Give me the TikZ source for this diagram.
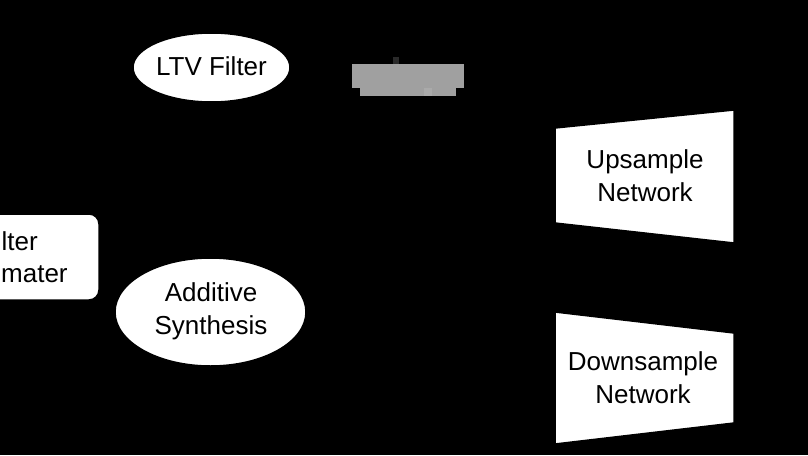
\documentclass[tikz,border=0pt]{standalone}
\usepackage{fontspec}
\setmainfont{Liberation Sans}
\usetikzlibrary{shapes.geometric}
\definecolor{blurgray}{HTML}{A0A0A0}
\definecolor{blurlight}{HTML}{AAAAAA}
\definecolor{blurdark}{HTML}{2A2A2A}
\tikzset{
  lbl/.style={font=\fontsize{26}{33}\selectfont, align=center, text=black, inner sep=0pt},
  shapeline/.style={draw=black, fill=white, line width=1.5pt},
  oval/.style={shapeline, ellipse, inner sep=0pt},
}
\begin{document}
\begin{tikzpicture}[x=1pt, y=-1pt]
\useasboundingbox (0,0) rectangle (808,455);
\fill[black] (0,0) rectangle (808,455);
\clip (0,0) rectangle (808,455);

% left rounded box (cut by the picture edge)
\draw[shapeline, rounded corners=10pt] (-80,214) rectangle (99,300);
\node[lbl, anchor=base west] (est1) at (1.5,250) {lter};
\node[lbl, anchor=base west] (est2) at (1,282) {mater};

% ellipses
\node[oval, minimum width=157pt, minimum height=69pt] (ltv) at (211.5,67.5) {};
\node[lbl] (ltvt) at (211.5,66.5) {LTV Filter};
\node[oval, minimum width=191pt, minimum height=108pt] (add) at (210.5,312) {};
\node[lbl] (addt) at (211,311) {Additive\\Synthesis};

% trapezoids
\draw[shapeline] (555,128) -- (734,110) -- (734,243) -- (555,223) -- cycle;
\node[lbl] (upt) at (645,176) {Upsample\\Network};
\draw[shapeline] (555,312) -- (734,333) -- (734,423) -- (555,444) -- cycle;
\node[lbl] (downt) at (643,378) {Downsample\\Network};

% blurred grey label
\fill[blurgray] (352,64) rectangle (464,88);
\fill[blurgray] (360,88) rectangle (456,96);
\fill[blurlight] (424,88) rectangle (432,96);
\fill[blurdark] (393,57) rectangle (399,64);
\end{tikzpicture}
\end{document}
